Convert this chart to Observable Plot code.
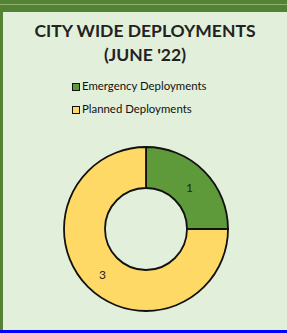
<!DOCTYPE html>
<html><head><meta charset="utf-8">
<script src="https://cdn.jsdelivr.net/npm/d3@7"></script>
<script src="https://cdn.jsdelivr.net/npm/@observablehq/plot@0.6"></script>
<style>
html,body{margin:0;padding:0;width:287px;height:333px;overflow:hidden;}
body{background:#e2efda;position:relative;font-family:Lato,"Open Sans",sans-serif;}
#band{position:absolute;left:0;top:0;width:287px;height:12px;background:#548235;z-index:2;}
#bandline{position:absolute;left:0;top:4px;width:287px;height:1px;background:#8db46c;z-index:3;}
#leftbar{position:absolute;left:0;top:0;width:3px;height:333px;background:#548235;z-index:2;}
#bot{position:absolute;left:0;bottom:0;width:287px;height:3px;background:blue;z-index:2;}
#title{position:absolute;left:3px;right:0;top:19px;text-align:center;font-weight:700;font-size:17.5px;line-height:24px;color:#222;}
#legend{position:absolute;left:0;right:0;top:79px;font-size:11.4px;color:#111;}
.item{position:absolute;left:72px;height:14px;line-height:14px;white-space:nowrap;}
.sw{display:inline-block;width:6px;height:6px;border:1.5px solid #111;vertical-align:-1px;margin-right:2px;}
#chart{position:absolute;left:0;top:130px;line-height:0;}
</style></head>
<body>
<div id="title">CITY WIDE DEPLOYMENTS<br>(JUNE '22)</div>
<div id="legend"></div>
<div id="chart"></div>
<div id="band"></div><div id="bandline"></div><div id="leftbar"></div><div id="bot"></div>
<script>
const categories = ["Emergency Deployments", "Planned Deployments"];
const values = [1, 3];
const colors = ["#5e9a3a", "#ffd966"];

const legend = document.getElementById("legend");
categories.forEach((c, i) => {
  const d = document.createElement("div");
  d.className = "item";
  d.style.top = (i * 23) + "px";
  d.innerHTML = `<span class="sw" style="background:${colors[i]}"></span>${c}`;
  legend.appendChild(d);
});

const data = categories.map((c, i) => ({category: c, value: values[i]}));
const arcs = d3.pie().sort(null).value(d => d.value)(data);

const W = 287, H = 190;
const cx = 146, cy = 99, R = 82, r = 41;

const donut = (index, scales, values_, dims) => {
  const g = d3.create("svg:g");
  const x0 = scales.x(0), y0 = scales.y(0);
  const rOut = scales.x(R) - scales.x(0), rIn = scales.x(r) - scales.x(0);
  const arc = d3.arc().innerRadius(rIn).outerRadius(rOut);
  const lab = d3.arc().innerRadius((rIn + rOut) / 2).outerRadius((rIn + rOut) / 2);
  const gg = g.append("g").attr("transform", `translate(${x0},${y0})`);
  gg.selectAll("path").data(arcs).join("path")
    .attr("d", arc)
    .attr("fill", d => scales.color(d.data.category))
    .attr("stroke", "#111").attr("stroke-width", 1.8);
  gg.selectAll("text").data(arcs).join("text")
    .attr("transform", d => { const c = lab.centroid(d); return `translate(${c[0]},${c[1] + 2})`; })
    .attr("text-anchor", "middle").attr("dy", "0.35em")
    .attr("font-size", 12).attr("fill", "#222")
    .attr("font-family", "Lato, sans-serif")
    .text(d => d.data.value);
  return g.node();
};

const plot = Plot.plot({
  width: W, height: H,
  margin: 0,
  x: {domain: [-cx, W - cx], axis: null},
  y: {domain: [H - cy, -cy], axis: null},
  color: {domain: categories, range: colors},
  style: {background: "transparent", overflow: "visible"},
  marks: [donut]
});
document.getElementById("chart").appendChild(plot);
</script>
</body></html>
